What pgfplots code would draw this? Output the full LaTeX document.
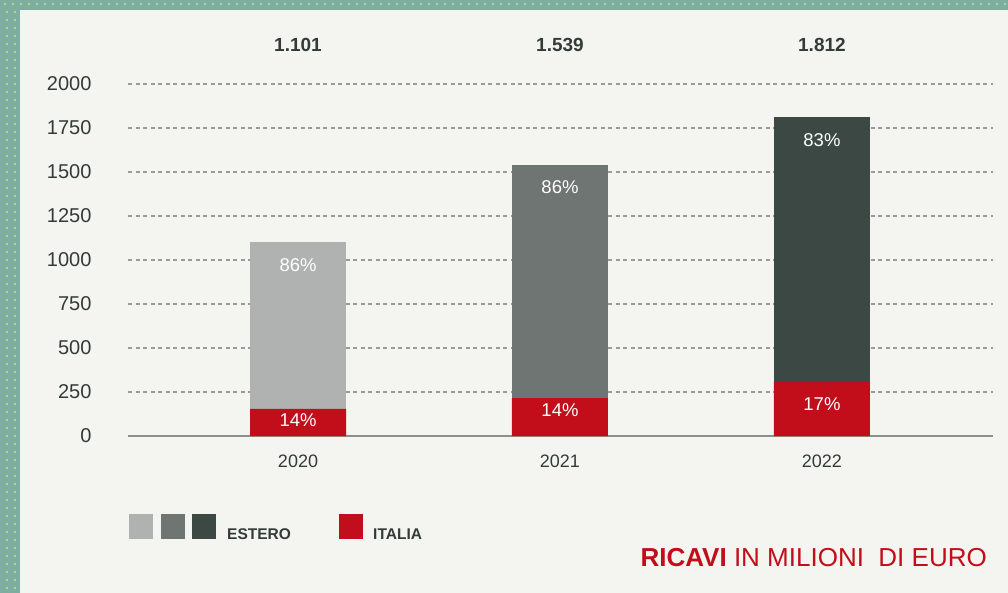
\documentclass[border=0pt]{standalone}
\usepackage{pgfplots}
\pgfplotsset{compat=1.18}
\usepackage{fontspec}
\setmainfont{Liberation Sans}
\definecolor{bgc}{HTML}{F4F5F0}
\definecolor{framec}{HTML}{7FADA0}
\definecolor{dotc}{HTML}{AEDB8C}
\definecolor{est1}{HTML}{AFB2B1}
\definecolor{est2}{HTML}{6F7573}
\definecolor{est3}{HTML}{3B4844}
\definecolor{ita}{HTML}{C20E1A}
\definecolor{txt}{HTML}{333B38}
\definecolor{gridc}{HTML}{9A9A9A}
\definecolor{axc}{HTML}{8C8F8D}
\tikzset{pct/.style={font=\fontsize{18.5}{22}\selectfont, text=white}, tot/.style={font=\bfseries\fontsize{19}{22}\selectfont, text=txt}}
\begin{document}
\begin{tikzpicture}
\fill[framec] (0pt,0pt) rectangle (1008pt,-593pt);
\fill[bgc] (20pt,-10pt) rectangle (1008pt,-593pt);
\foreach \i in {0,...,125} { \fill[dotc] (4pt+8pt*\i,-3pt) rectangle ++(2pt,-2pt); }
\foreach \j in {1,...,73} { \fill[dotc] (6pt,-3pt-8pt*\j) rectangle ++(2pt,-2pt); \fill[dotc] (14pt,-3pt-8pt*\j) rectangle ++(2pt,-2pt); }
\begin{axis}[
  at={(128pt,-436pt)}, anchor=south west,
  scale only axis, width=865pt, height=352pt,
  xmin=-0.649, xmax=2.653, ymin=0, ymax=2000,
  ybar stacked, bar width=96pt,
  axis x line=bottom, axis y line=left,
  x axis line style={draw=axc, line width=2pt, -},
  y axis line style={draw=none},
  major tick length=0pt,
  ytick={0,250,...,2000},
  ymajorgrids, grid style={gridc, line width=1.1pt, dash pattern=on 4pt off 3.5pt},
  xtick={0,1,2}, xticklabels={2020,2021,2022},
  /pgf/number format/assume math mode=true,
  /pgf/number format/1000 sep={},
  yticklabel style={font=\fontsize{20}{24}\selectfont, text=txt, xshift=-33pt},
  xticklabel style={font=\fontsize{18}{22}\selectfont, text=txt, yshift=-15pt},
  clip=false,
]
\addplot[fill=ita, draw=none] coordinates {(0,154) (1,215) (2,308)};
\addplot[fill=est1, draw=none] coordinates {(0,947) (1,0) (2,0)};
\addplot[fill=est2, draw=none] coordinates {(0,0) (1,1324) (2,0)};
\addplot[fill=est3, draw=none] coordinates {(0,0) (1,0) (2,1504)};
\coordinate (e0) at (axis cs:0,972);
\coordinate (e1) at (axis cs:1,1415);
\coordinate (e2) at (axis cs:2,1682);
\coordinate (i0) at (axis cs:0,91);
\coordinate (i1) at (axis cs:1,148);
\coordinate (i2) at (axis cs:2,182);
\node[tot] at (axis cs:0,2222) {1.101};
\node[tot] at (axis cs:1,2222) {1.539};
\node[tot] at (axis cs:2,2222) {1.812};
\end{axis}
\node[pct] at (e0) {86\%};
\node[pct] at (e1) {86\%};
\node[pct] at (e2) {83\%};
\node[pct] at (i0) {14\%};
\node[pct] at (i1) {14\%};
\node[pct] at (i2) {17\%};
\fill[est1] (129pt,-514pt) rectangle (153pt,-539pt);
\fill[est2] (161pt,-514pt) rectangle (185pt,-539pt);
\fill[est3] (192pt,-514pt) rectangle (216pt,-539pt);
\fill[ita] (339pt,-514pt) rectangle (363pt,-539pt);
\node[anchor=base west, inner sep=0pt, font=\bfseries\fontsize{15.5}{18}\selectfont, text=txt] at (227pt,-539pt) {ESTERO};
\node[anchor=base west, inner sep=0pt, font=\bfseries\fontsize{15.5}{18}\selectfont, text=txt] at (373pt,-539pt) {ITALIA};
\node[anchor=base east, inner sep=0pt, font=\fontsize{26}{30}\selectfont, text=ita] at (987pt,-566pt) {\textbf{RICAVI} IN MILIONI\ \ DI EURO};
\end{tikzpicture}
\end{document}
